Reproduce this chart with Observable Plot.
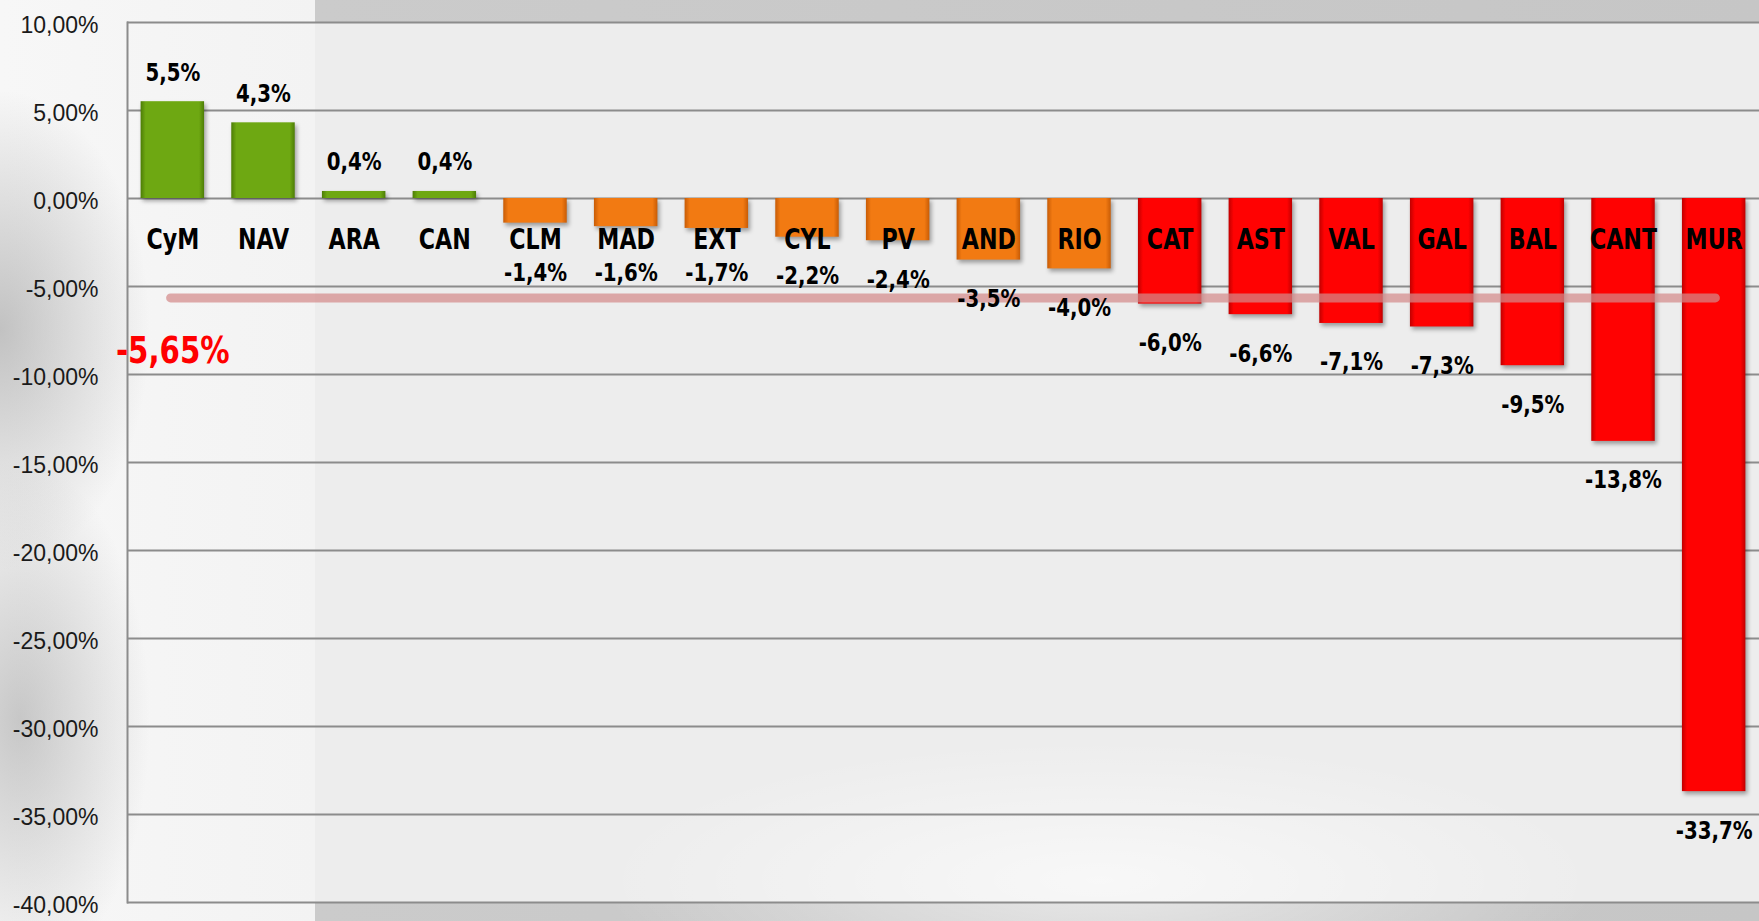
<!DOCTYPE html>
<html>
<head>
<meta charset="utf-8">
<script src="https://cdn.jsdelivr.net/npm/d3@7"></script>
<script src="https://cdn.jsdelivr.net/npm/@observablehq/plot@0.6"></script>
<style>
  html, body { margin: 0; padding: 0; }
  #chart {
    width: 1759px; height: 921px; position: relative; overflow: hidden;
    background:
      radial-gradient(ellipse 150px 240px at 0px 330px, rgba(150,150,150,0.55), rgba(150,150,150,0) 100%),
      radial-gradient(ellipse 130px 260px at 20px 720px, rgba(160,160,160,0.55), rgba(160,160,160,0) 100%),
      radial-gradient(ellipse 500px 140px at 1100px 880px, rgba(255,255,255,0.6), rgba(255,255,255,0) 100%),
      linear-gradient(#ededed, #ededed) 315px 22px / 1444px 880px no-repeat,
      linear-gradient(to right, #f7f7f7 0px, #f3f3f3 315px, #cbcbcb 315px, #c6c6c6 1759px);
  }
  g.bar { filter: drop-shadow(2px 3px 2px rgba(0,0,0,0.35)); }
</style>
</head>
<body>
<div id="chart"></div>
<script>
const regions = ["CyM","NAV","ARA","CAN","CLM","MAD","EXT","CYL","PV","AND","RIO","CAT","AST","VAL","GAL","BAL","CANT","MUR"];
const values  = [5.5, 4.3, 0.4, 0.4, -1.4, -1.6, -1.7, -2.2, -2.4, -3.5, -4.0, -6.0, -6.6, -7.1, -7.3, -9.5, -13.8, -33.7];
const average = -5.65;
const yTicks = [10, 5, 0, -5, -10, -15, -20, -25, -30, -35, -40];

const data = regions.map((region, i) => ({region, value: values[i]}));
const fmt1 = v => v.toFixed(1).replace(".", ",") + "%";
const fmt2 = v => v.toFixed(2).replace(".", ",") + "%";

const narrow = "'Liberation Sans Narrow', 'DejaVu Sans Condensed', 'Roboto', sans-serif";

const green = data.filter(d => d.value > 0);
const orange = data.filter(d => d.value <= 0 && d.value >= average);
const red = data.filter(d => d.value < average);
const pos = data.filter(d => d.value > 0);
const neg = data.filter(d => d.value <= 0);

const svg = Plot.plot({
  width: 1759,
  height: 921,
  marginLeft: 127,
  marginRight: 0,
  marginTop: 22,
  marginBottom: 19,
  style: {background: "transparent", fontFamily: narrow, color: "#111"},
  x: {domain: regions, paddingInner: 0.3, paddingOuter: 0.15, round: false, axis: null},
  y: {domain: [-40, 10], axis: null},
  marks: [
    Plot.gridY(yTicks, {stroke: "#8c8c8c", strokeOpacity: 1, strokeWidth: 2}),
    Plot.frame({anchor: "left", stroke: "#8c8c8c", strokeWidth: 2}),
    Plot.axisY(yTicks, {tickSize: 0, tickPadding: 29, tickFormat: fmt2, label: null, dy: 3,
      fontSize: 23, fontFamily: "'Liberation Sans', Arial, sans-serif", fill: "#1a1a1a"}),
    Plot.barY(green, {x: "region", y: "value", fill: "url(#gGreen)", className: "bar"}),
    Plot.barY(orange, {x: "region", y: "value", fill: "url(#gOrange)", className: "bar"}),
    Plot.barY(red, {x: "region", y: "value", fill: "url(#gRed)", className: "bar"}),
    Plot.ruleY([average], {
      x1: () => regions[0], x2: () => regions[regions.length - 1],
      insetLeft: 30, insetRight: 30,
      stroke: "#d48a8a", strokeOpacity: 0.72, strokeWidth: 9, strokeLinecap: "round"
    }),
    Plot.text([average], {
      x: () => regions[0], y: d => d, dy: 53, text: fmt2, className: "squeeze",
      fill: "#ff0000", fontSize: 37, fontWeight: "bold", lineAnchor: "middle"
    }),
    Plot.text(data, {
      x: "region", y: () => 0, dy: 42, text: "region", className: "squeeze",
      fontSize: 28, fontWeight: "bold", fill: "#000", lineAnchor: "middle"
    }),
    Plot.text(pos, {
      x: "region", y: "value", dy: -29, text: d => fmt1(d.value), className: "squeeze",
      fontSize: 25, fontWeight: "bold", fill: "#000", lineAnchor: "middle"
    }),
    Plot.text(neg, {
      x: "region", y: d => Math.min(d.value, -2.0), dy: 39, text: d => fmt1(d.value), className: "squeeze",
      fontSize: 25, fontWeight: "bold", fill: "#000", lineAnchor: "middle"
    })
  ]
});

// Calibri-like narrow, tall lettering
d3.select(svg).selectAll("g.squeeze text").each(function() {
  const t = this.getAttribute("transform");
  if (t) {
    this.setAttribute("transform", t + " scale(0.88,1)");
  } else {
    const x = this.getAttribute("x") || 0, y = this.getAttribute("y") || 0;
    this.removeAttribute("x"); this.removeAttribute("y");
    this.setAttribute("transform", `translate(${x},${y}) scale(0.88,1)`);
  }
});

const defs = d3.select(svg).insert("defs", ":first-child");
const grads = [
  ["gGreen", "#4d7d06", "#6ea812"],
  ["gOrange", "#c85c06", "#f27a12"],
  ["gRed", "#c00000", "#ff0202"]
];
for (const [id, dark, main] of grads) {
  const g = defs.append("linearGradient").attr("id", id).attr("x1", 0).attr("x2", 1).attr("y1", 0).attr("y2", 0);
  g.append("stop").attr("offset", "0%").attr("stop-color", dark);
  g.append("stop").attr("offset", "8%").attr("stop-color", main);
  g.append("stop").attr("offset", "92%").attr("stop-color", main);
  g.append("stop").attr("offset", "100%").attr("stop-color", dark);
}
document.getElementById("chart").appendChild(svg);
</script>
</body>
</html>
